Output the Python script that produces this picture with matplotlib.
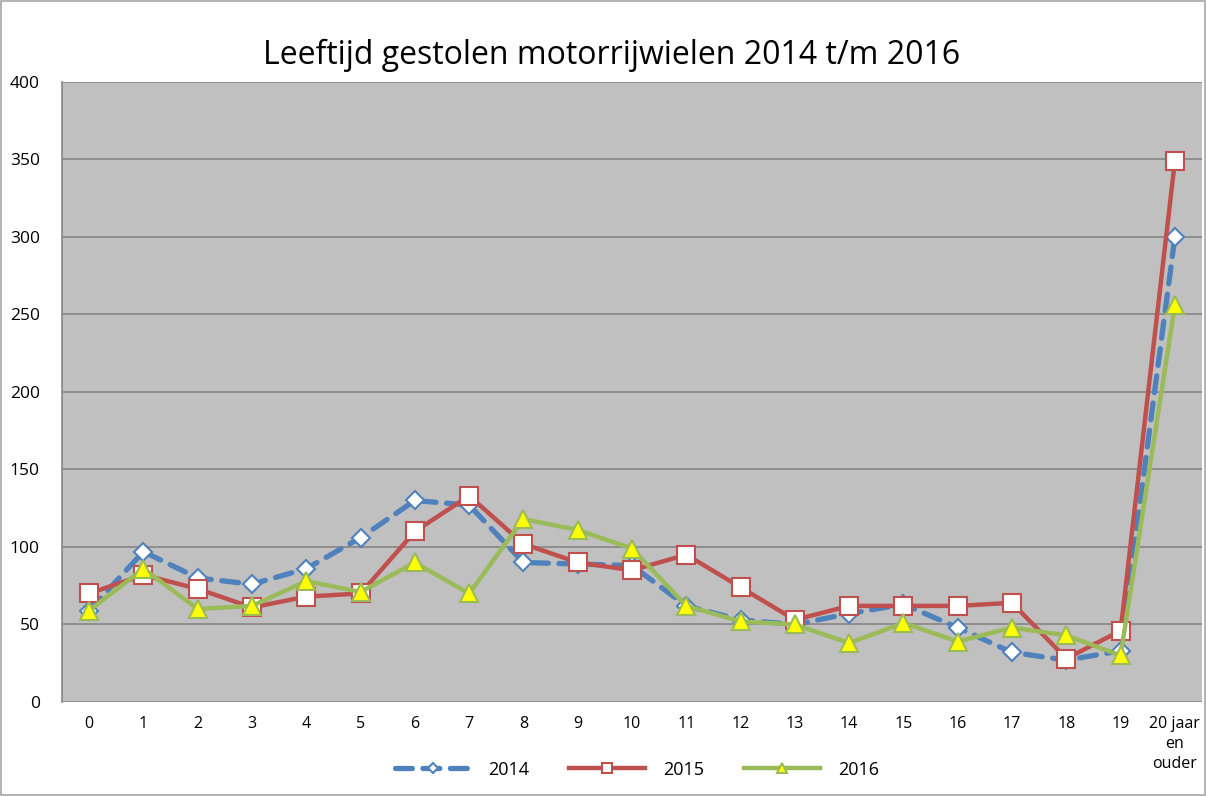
import matplotlib
matplotlib.use("Agg")
import matplotlib.pyplot as plt
from matplotlib.patches import Rectangle

categories = [str(i) for i in range(20)] + ["20 jaar\nen\nouder"]
v2014 = [59, 97, 80, 76, 86, 106, 130, 127, 90, 89, 88, 62, 53, 50, 57, 63, 48, 32, 27, 33, 300]
v2015 = [70, 82, 73, 61, 68, 70, 110, 133, 102, 90, 85, 95, 74, 53, 62, 62, 62, 64, 28, 46, 349]
v2016 = [59, 86, 60, 62, 78, 71, 90, 70, 118, 111, 99, 62, 52, 50, 38, 51, 39, 48, 43, 30, 256]
yticks = [0, 50, 100, 150, 200, 250, 300, 350, 400]
title = "Leeftijd gestolen motorrijwielen 2014 t/m 2016"

plt.rcParams['font.family'] = ['Open Sans', 'DejaVu Sans']

fig = plt.figure(figsize=(12.06, 7.96), dpi=100)
fig.patch.set_facecolor("white")
fig.add_artist(Rectangle((0.001, 0.001), 0.998, 0.998, transform=fig.transFigure,
                         fill=False, edgecolor="#a6a6a6", linewidth=1.2))
ax = fig.add_axes([0.0514, 0.1181, 0.9453, 0.7789])
ax.set_facecolor("#c0c0c0")

x = list(range(len(categories)))
ax.plot(x, v2014, color="#4f81bd", linewidth=3.8, dashes=(3.2, 2.0), dash_capstyle="round",
        marker="D", markersize=9, markerfacecolor="white", markeredgecolor="#4f81bd",
        markeredgewidth=1.5, label="2014", zorder=3)
ax.plot(x, v2015, color="#c0504d", linewidth=3.2,
        marker="s", markersize=13, markerfacecolor="white", markeredgecolor="#c0504d",
        markeredgewidth=1.5, label="2015", zorder=4)
ax.plot(x, v2016, color="#9bbb59", linewidth=3.2,
        marker="^", markersize=13, markerfacecolor="#ffff00", markeredgecolor="#9bbb59",
        markeredgewidth=1.5, label="2016", zorder=5)

ax.set_xlim(-0.5, len(categories) - 0.5)
ax.set_ylim(0, 400)
ax.set_yticks(yticks)
ax.set_xticks(x)
ax.set_xticklabels(categories, fontsize=11.5, linespacing=1.35)
ax.tick_params(axis="y", labelsize=12.5, length=0, pad=16)
ax.tick_params(axis="x", length=0, pad=10)
ax.grid(axis="y", color="#868686", linewidth=1.2)
ax.set_axisbelow(True)
for s in ["top", "right", "bottom"]:
    ax.spines[s].set_visible(False)
ax.spines["left"].set_color("#868686")
ax.spines["left"].set_linewidth(1.2)

fig.text(0.507, 0.93, title, ha="center", va="center", fontsize=23)

leg = fig.legend(loc="center", bbox_to_anchor=(0.528, 0.033), ncol=3, frameon=False,
                 fontsize=13, handlelength=4.2, columnspacing=2.2, handletextpad=1.0,
                 markerscale=0.6)

fig.savefig("out.png", dpi=100, facecolor="white")
